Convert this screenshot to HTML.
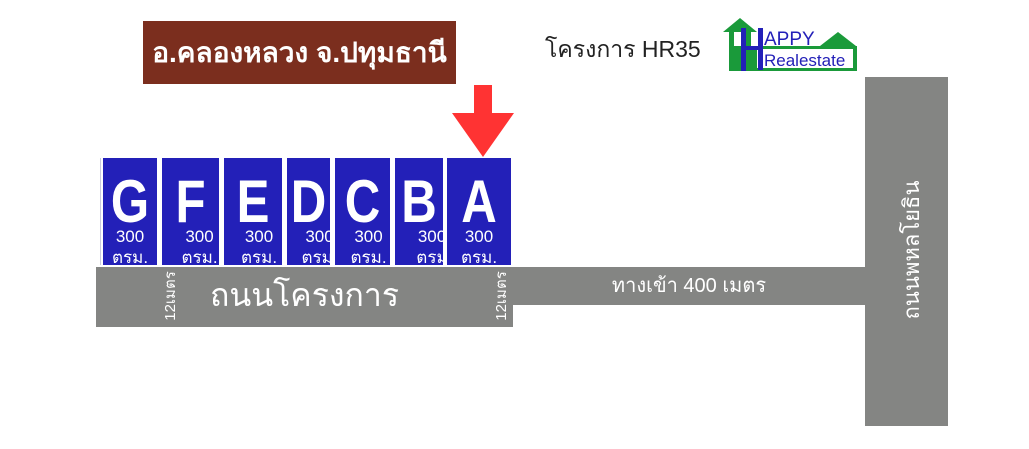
<!DOCTYPE html>
<html><head><meta charset="utf-8"><style>
body{margin:0;width:1029px;height:449px;background:#fff;position:relative;overflow:hidden;font-family:"Liberation Sans","Noto Sans CJK SC",sans-serif}
.a{position:absolute}
.lot{position:absolute;top:158px;height:107px;background:#2320b8;color:#fff;overflow:hidden}
.lot b{position:absolute;top:12px;left:-10px;right:-10px;text-align:center;font-size:60px;font-weight:bold;line-height:64px;transform:scaleX(0.82)}
.lot i{position:absolute;top:68px;left:0;right:0;text-align:center;font-style:normal;font-size:17px;line-height:21px;white-space:nowrap}
.v{position:absolute;color:#fff;font-size:14px;transform:rotate(-90deg);transform-origin:center;white-space:nowrap}
</style></head><body>
<div class="a" style="left:143px;top:21px;width:313px;height:63px;background:#7b2e1e;color:#fff;font-size:28px;font-weight:bold;line-height:63px;text-align:center">อ.คลองหลวง จ.ปทุมธานี</div>
<div class="a" style="left:545px;top:32px;font-size:23px;color:#222">โครงการ HR35</div>
<svg class="a" style="left:720px;top:16px" width="140" height="56">
<polygon points="3,16 20,2 37,16 31,16 31,55 9,55 9,16" fill="#1a9a3a"/>
<rect x="14" y="16" width="12" height="39" fill="#fff"/>
<polygon points="100,30 118,16 136,30" fill="#1a9a3a"/>
<rect x="9" y="30" width="128" height="25" fill="#1a9a3a"/>
<rect x="37" y="33" width="96" height="19" fill="#fff"/>
<rect x="21" y="12" width="5" height="43" fill="#2320b8"/>
<rect x="38" y="12" width="5" height="42" fill="#2320b8"/>
<rect x="21" y="30" width="20" height="4" fill="#2320b8"/>
<text x="44" y="29" font-size="19" fill="#2320b8" font-family="Liberation Sans">APPY</text>
<text x="44" y="50" font-size="17" fill="#2320b8" font-family="Liberation Sans">Realestate</text>
</svg>
<svg class="a" style="left:450px;top:85px" width="66" height="74"><polygon points="24,0 42,0 42,28 64,28 33,72 2,28 24,28" fill="#f33"/></svg>
<div class="a" style="left:100px;top:158px;width:1px;height:107px;background:#ccd"></div>
<div class="lot" style="left:103px;width:54px"><b>G</b><i>300<br>ตรม.</i></div>
<div class="lot" style="left:162px;width:57px"><b>F</b><i style="left:18px">300<br>ตรม.</i></div>
<div class="lot" style="left:224px;width:58px"><b>E</b><i style="left:12px">300<br>ตรม.</i></div>
<div class="lot" style="left:287px;width:43px"><b>D</b><i style="left:12px;right:-10px">300<br>ตรม.</i></div>
<div class="lot" style="left:335px;width:55px"><b>C</b><i style="left:12px">300<br>ตรม.</i></div>
<div class="lot" style="left:395px;width:48px"><b>B</b><i style="left:16px;right:-10px">300<br>ตรม</i></div>
<div class="lot" style="left:447px;width:64px"><b>A</b><i>300<br>ตรม.</i></div>
<div class="a" style="left:96px;top:267px;width:417px;height:60px;background:#848583"></div>
<div class="a" style="left:513px;top:267px;width:352px;height:38px;background:#848583;color:#fff;font-size:20px;line-height:38px;text-align:center">ทางเข้า 400 เมตร</div>
<div class="a" style="left:865px;top:77px;width:83px;height:349px;background:#848583"></div>
<div class="a" style="left:96px;top:267px;width:417px;height:60px;color:#fff;font-size:32px;line-height:56px;text-align:center">ถนนโครงการ</div>
<div class="v" style="left:137px;top:287px;width:60px;height:18px;text-align:center;font-size:15px">12เมตร</div>
<div class="v" style="left:468px;top:287px;width:60px;height:18px;text-align:center;font-size:15px">12เมตร</div>
<div class="v" style="left:836px;top:238px;width:140px;height:24px;font-size:22px;text-align:center">ถนนพหลโยธิน</div>
</body></html>
